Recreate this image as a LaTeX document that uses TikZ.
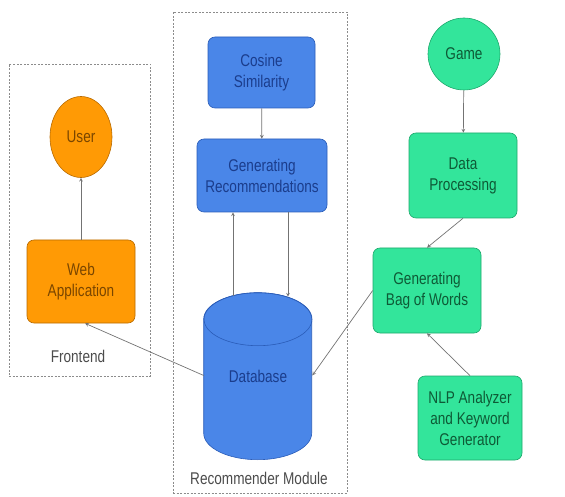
\documentclass[tikz,border=0pt]{standalone}
\usepackage{fontspec}
\setmainfont{Liberation Sans}[FakeStretch=0.8]
\usetikzlibrary{arrows,backgrounds,shapes.geometric,positioning}
\definecolor{orangefill}{HTML}{FF9A05}
\definecolor{orangeline}{HTML}{B86A00}
\definecolor{orangetext}{HTML}{7A4600}
\definecolor{bluefill}{HTML}{4A86E8}
\definecolor{blueline}{HTML}{2A5CB8}
\definecolor{bluetext}{HTML}{1B3D8C}
\definecolor{greenfill}{HTML}{33E59B}
\definecolor{greenline}{HTML}{1DA86C}
\definecolor{greentext}{HTML}{0E5A36}
\begin{document}
\begin{tikzpicture}[x=1pt,y=-1pt,draw=black!55,>=stealth,line width=0.7pt]
	\tikzstyle{block}=[rectangle,rounded corners=7pt,align=center,
	font=\fontsize{17}{21}\selectfont,
	inner sep=0pt,line width=0.6pt
	]
	\tikzstyle{o}=[block, fill=orangefill, draw=orangeline, text=orangetext];
	\tikzstyle{b}=[block, fill=bluefill, draw=blueline, text=bluetext];
	\tikzstyle{g}=[block, fill=greenfill, draw=greenline, text=greentext];
	\tikzstyle{group}=[draw=black!45,dash pattern=on 2pt off 1.5pt,line width=0.8pt,inner sep=0pt];
	\tikzstyle{grouplabel}=[text=black!70,font=\fontsize{17}{21}\selectfont];
\useasboundingbox (0,0) rectangle (565,497);

% groups
\node[group,minimum width=141pt,minimum height=312pt](frontend) at (79.5,220){};
\node[group,minimum width=174pt,minimum height=481pt](recmod) at (260,252.5){};
\node[grouplabel](frontendlbl) at (78,356){Frontend};
\node[grouplabel](recmodlbl) at (259,478){Recommender Module};

% frontend
\node[o,ellipse,minimum width=62pt,minimum height=81pt](user) at (81,137){User};
\node[o,minimum width=108pt,minimum height=83pt](web) at (81,281.5){Web\\Application};

% recommender
\node[b,minimum width=107pt,minimum height=71pt](cos) at (261.5,72.5){Cosine\\Similarity};
\node[b,minimum width=130pt,minimum height=73pt](gen) at (262,175.5){Generating\\Recommendations};
\node[b,fill=none,draw=none,minimum width=108pt,minimum height=167pt](db) at (258,376.5){Database};
\begin{scope}[on background layer]
\draw[fill=bluefill,draw=blueline,line width=0.6pt] (db.north west) ++(0,26.5) -- ++(0,114)
	arc[start angle=180,end angle=0,x radius=54,y radius=26.5] -- ++(0,-114)
	arc[start angle=0,end angle=-180,x radius=54,y radius=26.5] -- cycle;
\draw[draw=blueline,line width=0.6pt] (db.north) ++(0,26.5) ellipse[x radius=54,y radius=26.5];
\end{scope}

% game side
\node[g,circle,minimum size=72pt](game) at (464,54){Game};
\node[g,minimum width=108pt,minimum height=85pt](dp) at (463,175.5){Data\\Processing};
\node[g,minimum width=108pt,minimum height=85pt](bag) at (427,290.5){Generating\\Bag of Words};
\node[g,minimum width=104pt,minimum height=84pt](nlp) at (470,418){NLP Analyzer\\and Keyword\\Generator};

\draw [->] (web) -- (user);
\draw [->] (cos) -- (gen);
\draw [->] ([xshift=-25pt,yshift=-3pt]db.north) -- ([xshift=-29pt]gen.south);
\draw [->] ([xshift=26pt]gen.south) -- ([xshift=30pt,yshift=-4pt]db.north);
\draw [->] ([yshift=1pt]db.west) -- ([xshift=4pt]web.south);
\draw [->] (bag.west) -- ([yshift=1pt]db.east);
\draw [->] (game) -- (dp);
\draw [->] (dp.south) -- (bag.north);
\draw [->] (nlp.north) -- (bag.south);

\end{tikzpicture}
\end{document}
